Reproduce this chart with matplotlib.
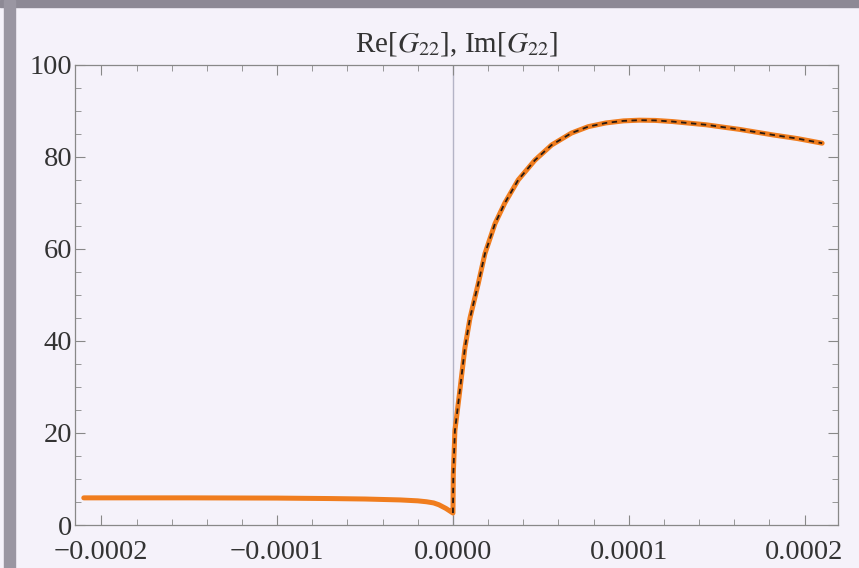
import numpy as np
import matplotlib
matplotlib.use('Agg')
import matplotlib.pyplot as plt
from matplotlib.patches import Rectangle
from matplotlib.ticker import MultipleLocator, FuncFormatter

# values
x_left = [-0.00021, -0.00015, -0.0001, -0.00007, -0.00005, -0.00003,
          -0.00002, -0.000015, -0.000011, -0.000008, -0.000006, -0.000004,
          -0.000002, 0.0]
g_left = [5.9, 5.9, 5.85, 5.75, 5.65, 5.45, 5.25, 5.05, 4.8, 4.4, 4.0,
          3.6, 3.1, 2.6]

x_right = [0.0, 0.0000002, 0.0000011, 0.000004, 0.0000068, 0.0000097,
           0.0000144, 0.0000182, 0.0000239, 0.0000295, 0.0000371,
           0.0000466, 0.0000561, 0.0000674, 0.000077, 0.000087, 0.000097,
           0.000106, 0.000115, 0.000125, 0.000144, 0.000163, 0.000182,
           0.000196, 0.00021]
g_right = [2.6, 11.0, 20.5, 29.5, 38.5, 45.0, 52.5, 59.0, 65.5, 70.0,
           75.0, 79.3, 82.6, 85.2, 86.6, 87.4, 87.85, 88.0, 87.95, 87.7,
           87.0, 86.0, 84.8, 84.0, 83.0]

plt.rcParams['font.family'] = ['Liberation Serif', 'DejaVu Serif']
plt.rcParams['mathtext.fontset'] = 'stix'

bg = '#f5f2fa'
fig = plt.figure(figsize=(8.59, 5.68), dpi=100, facecolor=bg)
ax = fig.add_axes([0.0873, 0.0757, 0.8882, 0.8099], facecolor=bg)

# photo border bits
fig.patches.append(Rectangle((0, 0.987), 1, 0.013, transform=fig.transFigure,
                             color='#8d8995', zorder=0))
fig.patches.append(Rectangle((0.005, 0), 0.012, 1, transform=fig.transFigure,
                             color='#9a96a2', zorder=0))

ax.axvline(0, color='#b4b4c6', lw=1.0, zorder=1)

x_all = x_left + x_right[1:]
g_all = g_left + g_right[1:]
ax.plot(x_all, g_all, color='#f07d1e', lw=3.6, solid_capstyle='round',
        solid_joinstyle='round', zorder=2)
ax.plot(x_right, g_right, color='#2a1a10', lw=1.3, dashes=(3, 2.5), zorder=3)

ax.set_xlim(-0.000215, 0.000219)
ax.set_ylim(0, 100)

ax.xaxis.set_major_locator(MultipleLocator(0.0001))
ax.xaxis.set_minor_locator(MultipleLocator(0.00002))
ax.yaxis.set_major_locator(MultipleLocator(20))
ax.yaxis.set_minor_locator(MultipleLocator(5))


def xfmt(v, pos):
    s = '%.4f' % abs(v)
    return ('\u2212' + s) if v < -1e-9 else s


ax.xaxis.set_major_formatter(FuncFormatter(xfmt))
ax.tick_params(which='both', direction='in', top=True, right=True,
               color='#888888', labelsize=20.5, labelcolor='#333333')
ax.tick_params(which='major', length=7, width=0.8, pad=2)
ax.tick_params(axis='x', which='major', pad=11)
ax.tick_params(which='minor', length=4, width=0.6)
for s in ax.spines.values():
    s.set_color('#888888')
    s.set_linewidth(0.9)

ax.set_title(r'Re[$G_{22}$], Im[$G_{22}$]', fontsize=21, color='#333333', pad=9)

fig.savefig('out.png', dpi=100, facecolor=bg)
